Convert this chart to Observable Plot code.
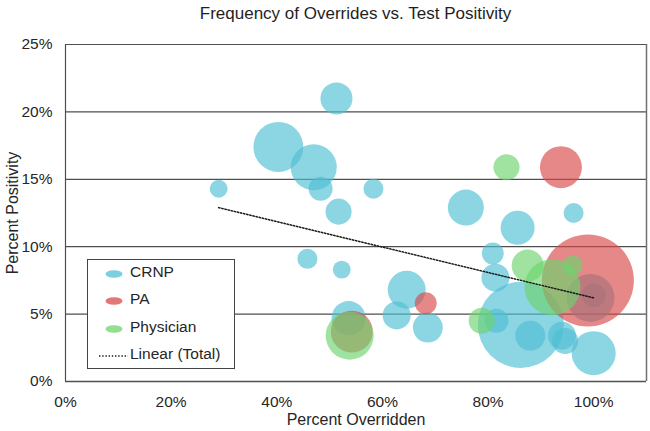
<!DOCTYPE html>
<html><head><meta charset="utf-8">
<script src="https://cdn.jsdelivr.net/npm/d3@7"></script>
<script src="https://cdn.jsdelivr.net/npm/@observablehq/plot@0.6"></script>
<style>
body{margin:0;background:#fff;font-family:"Liberation Sans",Arial,sans-serif;}
#wrap{position:relative;width:650px;height:431px;overflow:hidden;}
#title{position:absolute;left:65px;width:581px;top:4px;text-align:center;font-size:17px;color:#1f1f1f;}
#legend{position:absolute;left:87px;top:259px;width:148px;height:110px;border:1px solid #444;background:#fff;box-sizing:border-box;padding-top:0px;}
.row{position:relative;height:27.3px;font-size:15.5px;color:#262626;}
.row svg{position:absolute;left:10px;top:6px;}
.row span{position:absolute;left:42px;top:3px;}
</style></head>
<body>
<div id="wrap"><div id="chart"></div><div id="title">Frequency of Overrides vs. Test Positivity</div><div id="legend"></div></div>
<script>
// [percent overridden, percent positivity, bubble size]
const crnp = [
  [0.290, 0.143, 40], [0.403, 0.174, 312], [0.470, 0.159, 265], [0.483, 0.143, 72],
  [0.513, 0.210, 128], [0.517, 0.126, 85], [0.583, 0.143, 50], [0.758, 0.129, 162],
  [0.856, 0.114, 145], [0.962, 0.125, 50], [0.458, 0.091, 50], [0.523, 0.083, 40],
  [0.646, 0.068, 180], [0.627, 0.049, 98], [0.686, 0.040, 112], [0.536, 0.047, 145],
  [0.809, 0.095, 60], [0.814, 0.077, 98], [0.862, 0.042, 925], [0.816, 0.045, 72],
  [0.880, 0.034, 112], [0.940, 0.034, 98], [0.946, 0.030, 85], [1.000, 0.021, 242],
  [0.994, 0.062, 288], [1.000, 0.064, 72]
];
const pa = [
  [0.938, 0.159, 220], [0.989, 0.075, 1058], [0.682, 0.058, 60], [0.542, 0.037, 220]
];
const physician = [
  [0.835, 0.159, 85], [0.875, 0.086, 128], [0.922, 0.070, 392], [0.960, 0.086, 50],
  [0.788, 0.045, 85], [0.538, 0.034, 288]
];
const seriesNames = ["CRNP", "PA", "Physician"];
const seriesColors = ["#4fbfd3", "#d94848", "#6dd46d"];
const trendX = [0.29, 1.00];
const trendY = [0.129, 0.062];
const xTicks = [0, 0.2, 0.4, 0.6, 0.8, 1.0];
const yTicks = [0, 0.05, 0.10, 0.15, 0.20, 0.25];

const points = [
  ...crnp.map(([x, y, n]) => ({x, y, n, s: "CRNP"})),
  ...pa.map(([x, y, n]) => ({x, y, n, s: "PA"})),
  ...physician.map(([x, y, n]) => ({x, y, n, s: "Physician"}))
];
const trend = trendX.map((x, i) => ({x, y: trendY[i]}));
const grid = "#4f4f4f";

const chart = Plot.plot({
  width: 650, height: 431,
  marginTop: 44, marginBottom: 50, marginLeft: 65, marginRight: 4,
  style: {fontFamily: "Liberation Sans, Arial, sans-serif", fontSize: "15.5px", color: "#262626", background: "transparent"},
  x: {domain: [0, 1.1], label: null},
  y: {domain: [0, 0.25], label: null},
  r: {type: "sqrt", domain: [0, 1250], range: [0, 50]},
  color: {domain: seriesNames, range: seriesColors},
  marks: [
    Plot.ruleY(yTicks.slice(1), {stroke: grid, strokeWidth: 1.2}),
    Plot.ruleX([0], {stroke: grid, strokeWidth: 1.2}),
    Plot.ruleX([1.1], {stroke: "#707070", strokeWidth: 1.5}),
    Plot.dot(points, {x: "x", y: "y", r: "n", fill: "s", fillOpacity: 0.65, stroke: null, sort: null}),
    Plot.line(trend, {x: "x", y: "y", stroke: "#1a1a1a", strokeWidth: 1.5, strokeDasharray: "1.4,1.8"}),
    Plot.ruleY([0], {stroke: grid, strokeWidth: 1.5}),
    Plot.axisX({ticks: xTicks, tickFormat: d3.format(".0%"), tickSize: 0, tickPadding: 14, label: null}),
    Plot.axisY({ticks: yTicks, tickFormat: d3.format(".0%"), tickSize: 0, tickPadding: 13, label: null}),
    Plot.text(["Percent Overridden"], {frameAnchor: "bottom", dy: 43, fontSize: 16, fill: "#262626"}),
    Plot.text(["Percent Positivity"], {frameAnchor: "left", textAnchor: "middle", dx: -53, rotate: -90, fontSize: 16, fill: "#262626"})
  ]
});
document.getElementById("chart").append(chart);

const legend = document.getElementById("legend");
seriesNames.forEach((name, i) => {
  const row = document.createElement("div");
  row.className = "row";
  row.innerHTML = `<svg width="30" height="16"><ellipse cx="16" cy="8" rx="8.5" ry="3.8" fill="${seriesColors[i]}" fill-opacity="0.75"/></svg><span>${name}</span>`;
  legend.append(row);
});
const trow = document.createElement("div");
trow.className = "row";
trow.innerHTML = `<svg width="32" height="16"><line x1="1" x2="30" y1="8" y2="8" stroke="#1a1a1a" stroke-width="1.5" stroke-dasharray="1.4,1.8"/></svg><span>Linear (Total)</span>`;
legend.append(trow);
</script>
</body></html>
